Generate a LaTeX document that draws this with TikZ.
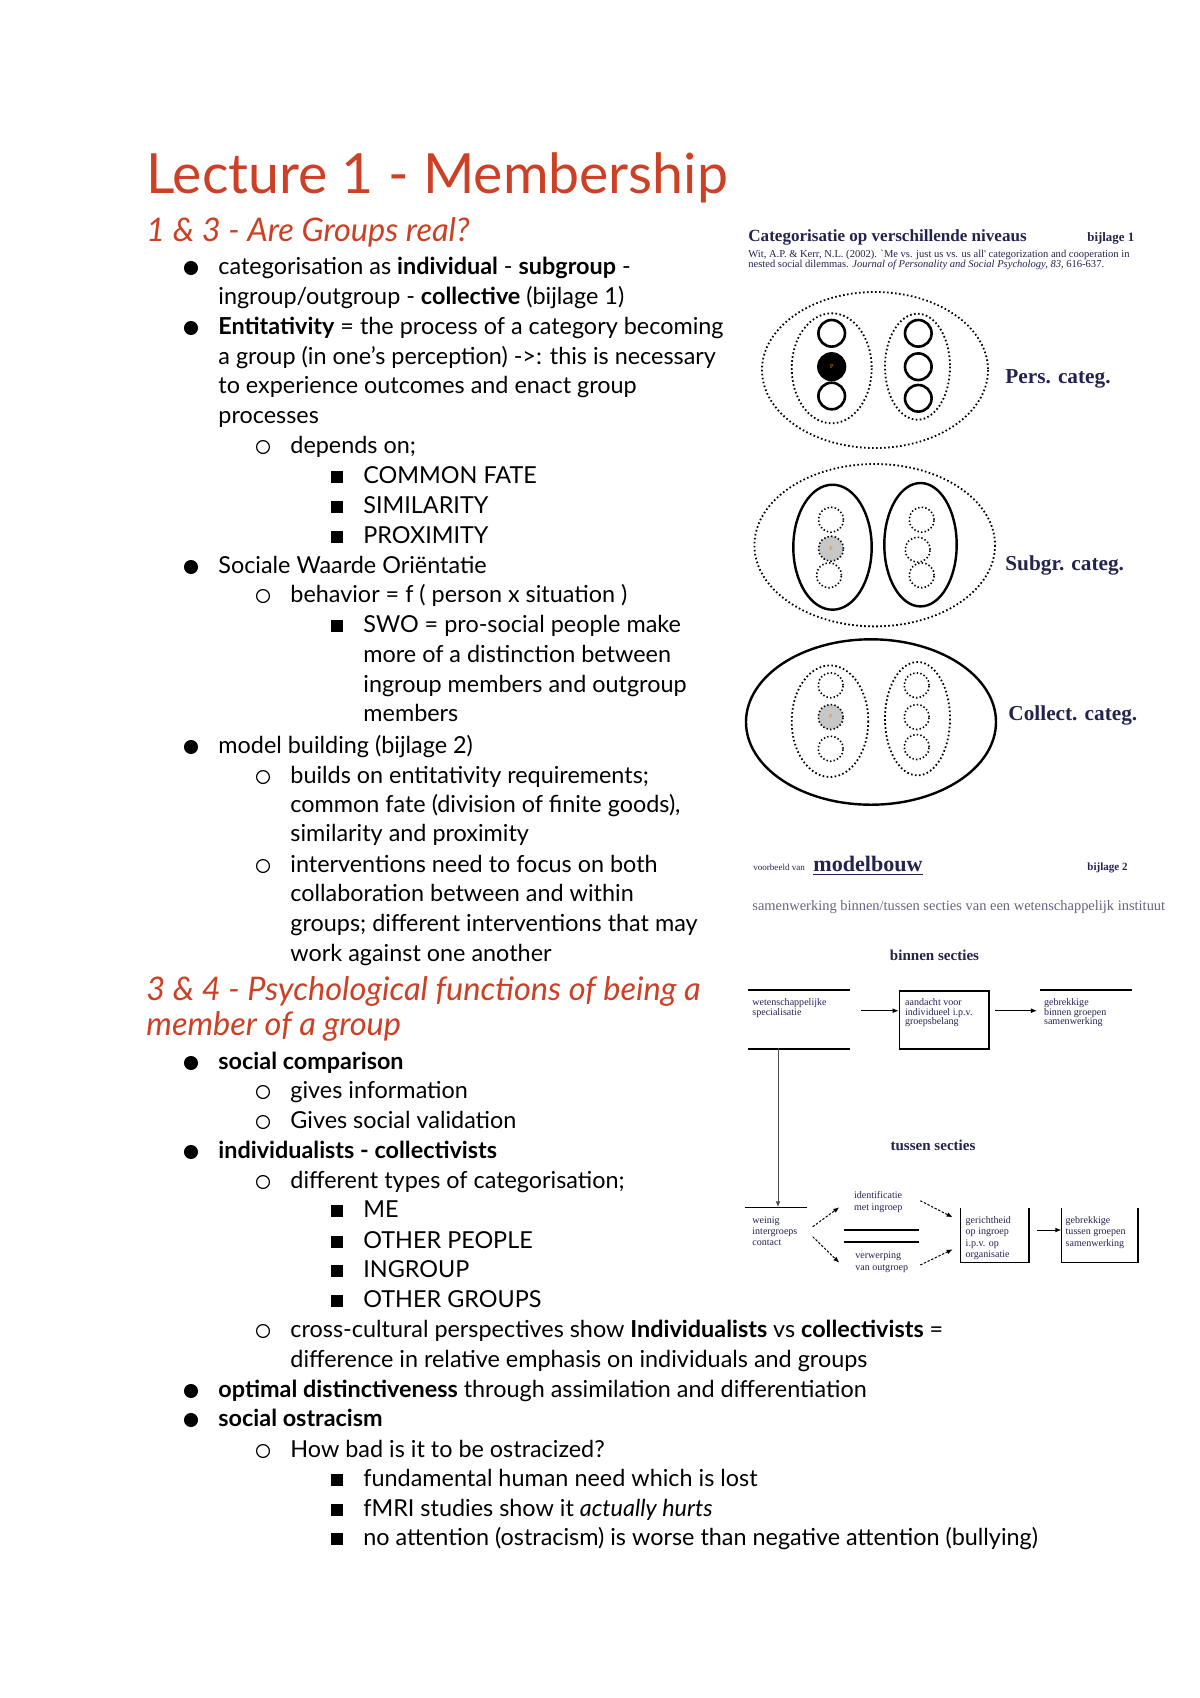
\documentclass[tikz,border=0pt]{standalone}
\usepackage{fontspec}
\setmainfont{Lato}
\newfontfamily\tms{Liberation Serif}
\usetikzlibrary{arrows,arrows.meta,shapes}
\definecolor{berry}{RGB}{204,65,37}
\definecolor{inkblue}{RGB}{35,35,80}
\tikzstyle{line}=[anchor=base west,inner sep=0pt,font=\fontsize{11.65}{13}\selectfont]
\tikzstyle{title}=[anchor=base west,inner sep=0pt,text=berry,font=\fontsize{27.6}{30}\selectfont]
\tikzstyle{head}=[anchor=base west,inner sep=0pt,text=berry,font=\fontsize{16.2}{18}\selectfont\itshape]
\tikzstyle{dot one}=[circle,fill=black,minimum width=6.4pt,minimum height=7pt,inner sep=0pt]
\tikzstyle{dot two}=[circle,draw=black,line width=0.6pt,minimum size=6.4pt,inner sep=0pt]
\tikzstyle{dot three}=[rectangle,fill=black,minimum size=6.2pt,inner sep=0pt]
\tikzstyle{appx}=[anchor=base west,inner sep=0pt,text=inkblue,font=\tms\bfseries\fontsize{8.5}{9}\selectfont]
\tikzstyle{cite}=[anchor=base west,inner sep=0pt,text=inkblue,font=\tms\fontsize{5.25}{6}\selectfont]
\tikzstyle{categ}=[anchor=base west,inner sep=0pt,text=inkblue,font=\tms\bfseries\fontsize{10.6}{12}\selectfont]
\tikzstyle{dots}=[line width=0.9pt,dash pattern=on 0.8pt off 1.2pt]
\tikzstyle{fine dots}=[line width=0.8pt,dash pattern=on 0.7pt off 1.1pt]
\tikzstyle{member}=[circle,draw,line width=1.3pt,minimum size=26.6*0.0175cm,inner sep=0pt]
\tikzstyle{loose member}=[circle,draw,fine dots,minimum size=25*0.0175cm,inner sep=0pt]
\tikzstyle{tiny}=[anchor=north west,inner sep=0pt,align=left,text=inkblue,font=\tms\fontsize{5}{4.6}\selectfont]
\tikzstyle{tiny wide}=[tiny,font=\tms\fontsize{5}{5.7}\selectfont]
\tikzstyle{frame}=[anchor=north west,inner sep=0pt]
\tikzstyle{arr}=[-{Latex[length=3pt,width=2.4pt]},line width=0.5pt]
\tikzstyle{dash arr}=[arr,dash pattern=on 1.2pt off 0.8pt]

\begin{document}
\begin{tikzpicture}[x=0.0175cm,y=-0.0175cm]
\useasboundingbox[fill=white] (0,0) rectangle (1200,1698);

% Title and headings
\node[title] (title) at (146,193) {Lecture 1 - Membership};
\node[head] (head1) at (146,241.5) {1 \& 3 - Are Groups real?};
\node[head] (head2) at (146,1000) {3 \& 4 - Psychological functions of being a};
\node[head] (head2b) at (146,1035) {member of a group};

% The notes, line by line
\foreach \x/\y/\txt [count=\i] in {
  218/274/{categorisation as \textbf{individual} - \textbf{subgroup} -},
  218/304/{ingroup/outgroup - \textbf{collective} (bijlage 1)},
  218/334/{\textbf{Entitativity} = the process of a category becoming},
  218/364/{a group (in one's perception) ->: this is necessary},
  218/393/{to experience outcomes and enact group},
  218/423/{processes},
  290/453/{depends on;},
  363/483/{COMMON FATE},
  363/513/{SIMILARITY},
  363/543/{PROXIMITY},
  218/573/{Sociale Waarde Oriëntatie},
  290/602/{behavior = f ( person x situation )},
  363/632/{SWO = pro-social people make},
  363/662/{more of a distinction between},
  363/692/{ingroup members and outgroup},
  363/721/{members},
  218/753/{model building (bijlage 2)},
  290/783/{builds on entitativity requirements;},
  290/812/{common fate (division of finite goods),},
  290/841/{similarity and proximity},
  290/872/{interventions need to focus on both},
  290/901/{collaboration between and within},
  290/931/{groups; different interventions that may},
  290/961/{work against one another},
  218/1069/{\textbf{social comparison}},
  290/1098/{gives information},
  290/1128/{Gives social validation},
  218/1158/{\textbf{individualists - collectivists}},
  290/1188/{different types of categorisation;},
  363/1217/{ME},
  363/1248/{OTHER PEOPLE},
  363/1277/{INGROUP},
  363/1307/{OTHER GROUPS},
  290/1337/{cross-cultural perspectives show \textbf{Individualists} vs \textbf{collectivists} =},
  290/1367/{difference in relative emphasis on individuals and groups},
  218/1397/{\textbf{optimal distinctiveness} through assimilation and differentiation},
  218/1426/{\textbf{social ostracism}},
  290/1457/{How bad is it to be ostracized?},
  363/1486/{fundamental human need which is lost},
  363/1516/{fMRI studies show it \textit{actually hurts}},
  363/1545/{no attention (ostracism) is worse than negative attention (bullying)}}
    \node[line] (l\i) at (\x,\y) {\txt};

% Bullets
\foreach \y [count=\i] in {268,328,567,747,1063,1152,1391,1420}
    \node[dot one] (bo\i) at (191,\y) {};
\foreach \y [count=\i] in {447,596,777,866,1092,1122,1182,1331,1451}
    \node[dot two] (bt\i) at (263,\y) {};
\foreach \y [count=\i] in {477,507,537,626,1211,1242,1271,1301,1480,1510,1539}
    \node[dot three] (bs\i) at (337,\y) {};

% bijlage 1
\node[appx] (cathead) at (748,241) {Categorisatie op verschillende niveaus};
\node[appx,font=\tms\bfseries\fontsize{6.4}{7}\selectfont] (bij1) at (1087,241) {bijlage 1};
\node[cite] (cite1) at (748,257) {Wit, A.P. \& Kerr, N.L. (2002). `Me vs. just us vs. us all' categorization and cooperation in};
\node[cite] (cite2) at (748,267) {nested social dilemmas. \textit{Journal of Personality and Social Psychology, 83,} 616-637.};

% Pers. categ.
\draw[dots] (875,370) ellipse [x radius=113, y radius=78];
\draw[dots] (831.7,368.3) ellipse [x radius=40, y radius=55];
\draw[dots] (917.5,366.7) ellipse [x radius=32.5, y radius=53];
\foreach \pos/\name in {{(831.7,333.3)/pa1},{(831.7,396)/pa3},{(918.3,333.3)/pb1},{(918.3,366.7)/pb2},{(918.3,398.3)/pb3}}
    \node[member] (\name) at \pos {};
\node[member,fill=black] (pa2) at (831.7,366.7) {};
\node[text=orange,font=\tms\fontsize{3}{3}\selectfont,inner sep=0pt] (pp) at (pa2) {P};
\node[categ] (perslab) at (1005,383) {Pers. categ.};

% Subgr. categ.
\draw[dots] (874.7,545.2) ellipse [x radius=120.3, y radius=81.2];
\draw[line width=1.2pt] (832.5,547.2) ellipse [x radius=39.2, y radius=62.5];
\draw[line width=1.2pt] (920.5,544.7) ellipse [x radius=36.2, y radius=61.7];
\foreach \pos/\name in {{(831,519.7)/sa1},{(829,575.3)/sa3},{(921.7,519.7)/sb1},{(917.7,549.7)/sb2},{(921.7,575.3)/sb3}}
    \node[loose member] (\name) at \pos {};
\node[loose member,fill=black!22] (sa2) at (831,548.7) {};
\node[text=orange,font=\tms\fontsize{3}{3}\selectfont,inner sep=0pt] (sp) at (sa2) {P};
\node[categ] (subgrlab) at (1005,570) {Subgr. categ.};

% Collect. categ.
\draw[line width=1.2pt] (871,722) ellipse [x radius=125, y radius=82.7];
\draw[dots] (830,721.2) ellipse [x radius=38.3, y radius=55.8];
\draw[dots] (917.5,718.7) ellipse [x radius=32.5, y radius=56.7];
\foreach \pos/\name in {{(830.7,685.3)/ca1},{(830.7,748.7)/ca3},{(916.7,685.3)/cb1},{(916.7,717)/cb2},{(916.7,747)/cb3}}
    \node[loose member] (\name) at \pos {};
\node[loose member,fill=black!22] (ca2) at (830.7,717) {};
\node[text=orange,font=\tms\fontsize{3}{3}\selectfont,inner sep=0pt] (cp) at (ca2) {P};
\node[categ] (collectlab) at (1008,720) {Collect. categ.};

% bijlage 2: modelbouw
\node[cite,font=\tms\fontsize{4.5}{5}\selectfont] (vb) at (753,870) {voorbeeld van};
\node[appx,font=\tms\bfseries\fontsize{11}{12}\selectfont] (mb) at (813,871) {\underline{modelbouw}};
\node[appx,font=\tms\bfseries\fontsize{5.5}{6}\selectfont] (bij2) at (1087,870) {bijlage 2};
\node[cite,text=inkblue!70,font=\tms\fontsize{7.2}{8}\selectfont] (samen) at (752,910) {samenwerking binnen/tussen secties van een wetenschappelijk instituut};
\node[appx,anchor=center,font=\tms\bfseries\fontsize{7.5}{8}\selectfont] (binnen) at (934.5,955) {binnen secties};
\node[appx,anchor=center,font=\tms\bfseries\fontsize{7.5}{8}\selectfont] (tussen) at (933,1145) {tussen secties};

% binnen secties
\node[frame,minimum width=100.7*0.0175cm,minimum height=58.3*0.0175cm] (spec) at (748,990) {};
\node[frame,draw,line width=0.8pt,minimum width=89.3*0.0175cm,minimum height=58.3*0.0175cm] (aand) at (898.7,990) {};
\node[frame,minimum width=91*0.0175cm,minimum height=58.3*0.0175cm] (gebr1) at (1040.3,990) {};
\draw[line width=0.8pt] (spec.north west) -- (spec.north east);
\draw[line width=0.8pt] (spec.south west) -- (spec.south east);
\draw[line width=0.8pt] (gebr1.north west) -- (gebr1.north east);
\node[tiny] (spectxt) at (752,998.5) {wetenschappelijke\\specialisatie};
\node[tiny] (aandtxt) at (904.7,998.5) {aandacht voor\\individueel i.p.v.\\groepsbelang};
\node[tiny] (gebr1txt) at (1043.7,998.5) {gebrekkige\\binnen groepen\\samenwerking};
\coordinate (a1) at (861,1010.7);
\coordinate (a2) at (995.3,1010.7);
\draw[arr] (a1) -- (a1 -| aand.west);
\draw[arr] (a2) -- (1037,1010.7);

% tussen secties
\node[frame,minimum width=60.7*0.0175cm,minimum height=40*0.0175cm] (weinig) at (745.3,1207.3) {};
\draw[line width=0.8pt] (weinig.north west) -- (weinig.north east);
\coordinate (v1) at (778,1048.3);
\draw[arr,black!70] (v1) -- (v1 |- weinig.north);
\node[tiny wide] (weinigtxt) at (752,1216) {weinig\\intergroeps\\contact};
\node[tiny wide] (ident) at (853.7,1191.5) {identificatie\\met ingroep};
\node[tiny wide] (verw) at (855,1251.5) {verwerping\\van outgroep};
\draw[line width=0.8pt] (843.7,1230) -- (919.3,1230);
\draw[line width=0.8pt] (843.7,1241.7) -- (919.3,1241.7);
\node[frame,minimum width=67.7*0.0175cm,minimum height=53.4*0.0175cm] (gericht) at (960.3,1208.3) {};
\node[frame,minimum width=75.7*0.0175cm,minimum height=53.4*0.0175cm] (gebr2) at (1061.3,1208.3) {};
\draw[line width=0.8pt] (gericht.north west) -- (gericht.south west) -- (gericht.south east) -- (gericht.north east);
\draw[line width=0.8pt] (gebr2.north west) -- (gebr2.south west) -- (gebr2.south east) -- (gebr2.north east);
\node[tiny wide] (gerichttxt) at (965.3,1216) {gerichtheid\\op ingroep\\i.p.v. op\\organisatie};
\node[tiny wide] (gebr2txt) at (1065.3,1216) {gebrekkige\\tussen groepen\\samenwerking};
\coordinate (w1) at (812.7,1226.7);
\coordinate (w2) at (812.7,1236.7);
\coordinate (i1) at (839.3,1207.3);
\coordinate (i2) at (839.3,1262.7);
\coordinate (g1) at (920.3,1200.7);
\coordinate (g2) at (920.3,1265);
\coordinate (h1) at (952.7,1217.3);
\coordinate (h2) at (952.7,1249.3);
\draw[dash arr] (w1) -- (i1);
\draw[dash arr] (w2) -- (i2);
\draw[dash arr] (g1) -- (h1);
\draw[dash arr] (g2) -- (h2);
\coordinate (k1) at (1037,1230);
\draw[arr] (k1) -- (k1 -| gebr2.west);
\end{tikzpicture}
\end{document}
